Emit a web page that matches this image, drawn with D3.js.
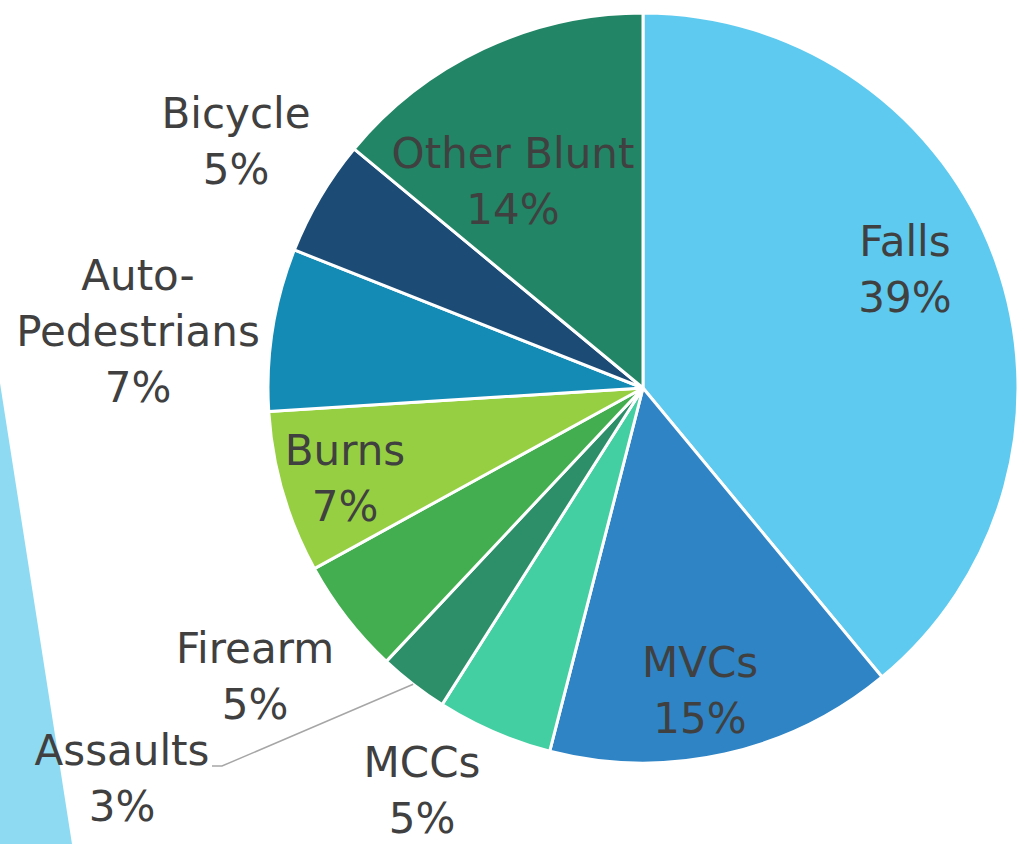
<!DOCTYPE html>
<html><head><meta charset="utf-8">
<script src="https://cdn.jsdelivr.net/npm/d3@7"></script>
<style>html,body{margin:0;padding:0;background:#fff;overflow:hidden}</style>
</head><body>
<svg id="chart" width="1024" height="844"></svg>
<script>
const categories = ["Falls","MVCs","MCCs","Assaults","Firearm","Burns","Auto-Pedestrians","Bicycle","Other Blunt"];
const values = [39,15,5,3,5,7,7,5,14];
const labelText = [["Falls","39%"],["MVCs","15%"],["MCCs","5%"],["Assaults","3%"],["Firearm","5%"],["Burns","7%"],["Auto-","Pedestrians","7%"],["Bicycle","5%"],["Other Blunt","14%"]];
const colors = ["#5ecaef","#2e84c5","#43cfa2","#2d8f6a","#43ae4f","#96d042","#148bb5","#1c4c75","#228565"];

// label layout (center of first line, relative to pie center)
const labelPos = {
  "Falls":[262,-147],"MVCs":[57,274],"MCCs":[-221,374],"Assaults":[-521,362],
  "Firearm":[-388,260],"Burns":[-298,62],"Auto-Pedestrians":[-505,-113],
  "Bicycle":[-407,-275],"Other Blunt":[-130,-235]
};

const svg = d3.select("#chart");
const cx = 643, cy = 388, R = 375;

// decorative stripe
svg.append("path")
  .attr("d", d3.line()([[0,383],[72,844],[0,844]]) + "Z")
  .attr("fill","#8ddaf2");

const g = svg.append("g").attr("transform",`translate(${cx},${cy})`);
const pie = d3.pie().sort(null).value(d=>d.v);
const data = pie(categories.map((c,i)=>({c, v: values[i], i})));
const arc = d3.arc().innerRadius(0).outerRadius(R);

g.selectAll("path.slice").data(data).enter().append("path")
  .attr("class","slice")
  .attr("d",arc)
  .attr("fill",d=>colors[d.data.i])
  .attr("stroke","#fff").attr("stroke-width",3).attr("stroke-linejoin","round");

// leader line for Assaults
const as = data[3];
const am = (as.startAngle+as.endAngle)/2;
const ap = [Math.sin(am)*R, -Math.cos(am)*R];
g.append("path")
  .attr("d", d3.line()([ap,[222-cx,766-cy],[212-cx,766-cy]]))
  .attr("fill","none").attr("stroke","#a6a6a6").attr("stroke-width",1.5);

const lineH = 56;
data.forEach(d=>{
  const c = d.data.c;
  const p = labelPos[c];
  const t = g.append("text")
    .attr("text-anchor","middle")
    .attr("font-family","'DejaVu Sans', sans-serif")
    .attr("font-size",42)
    .attr("fill","#404040");
  labelText[d.data.i].forEach((s,k)=>{
    t.append("tspan").attr("x",p[0]).attr("y",p[1]+k*lineH).attr("dy","0.36em").text(s);
  });
});
</script>
</body></html>
